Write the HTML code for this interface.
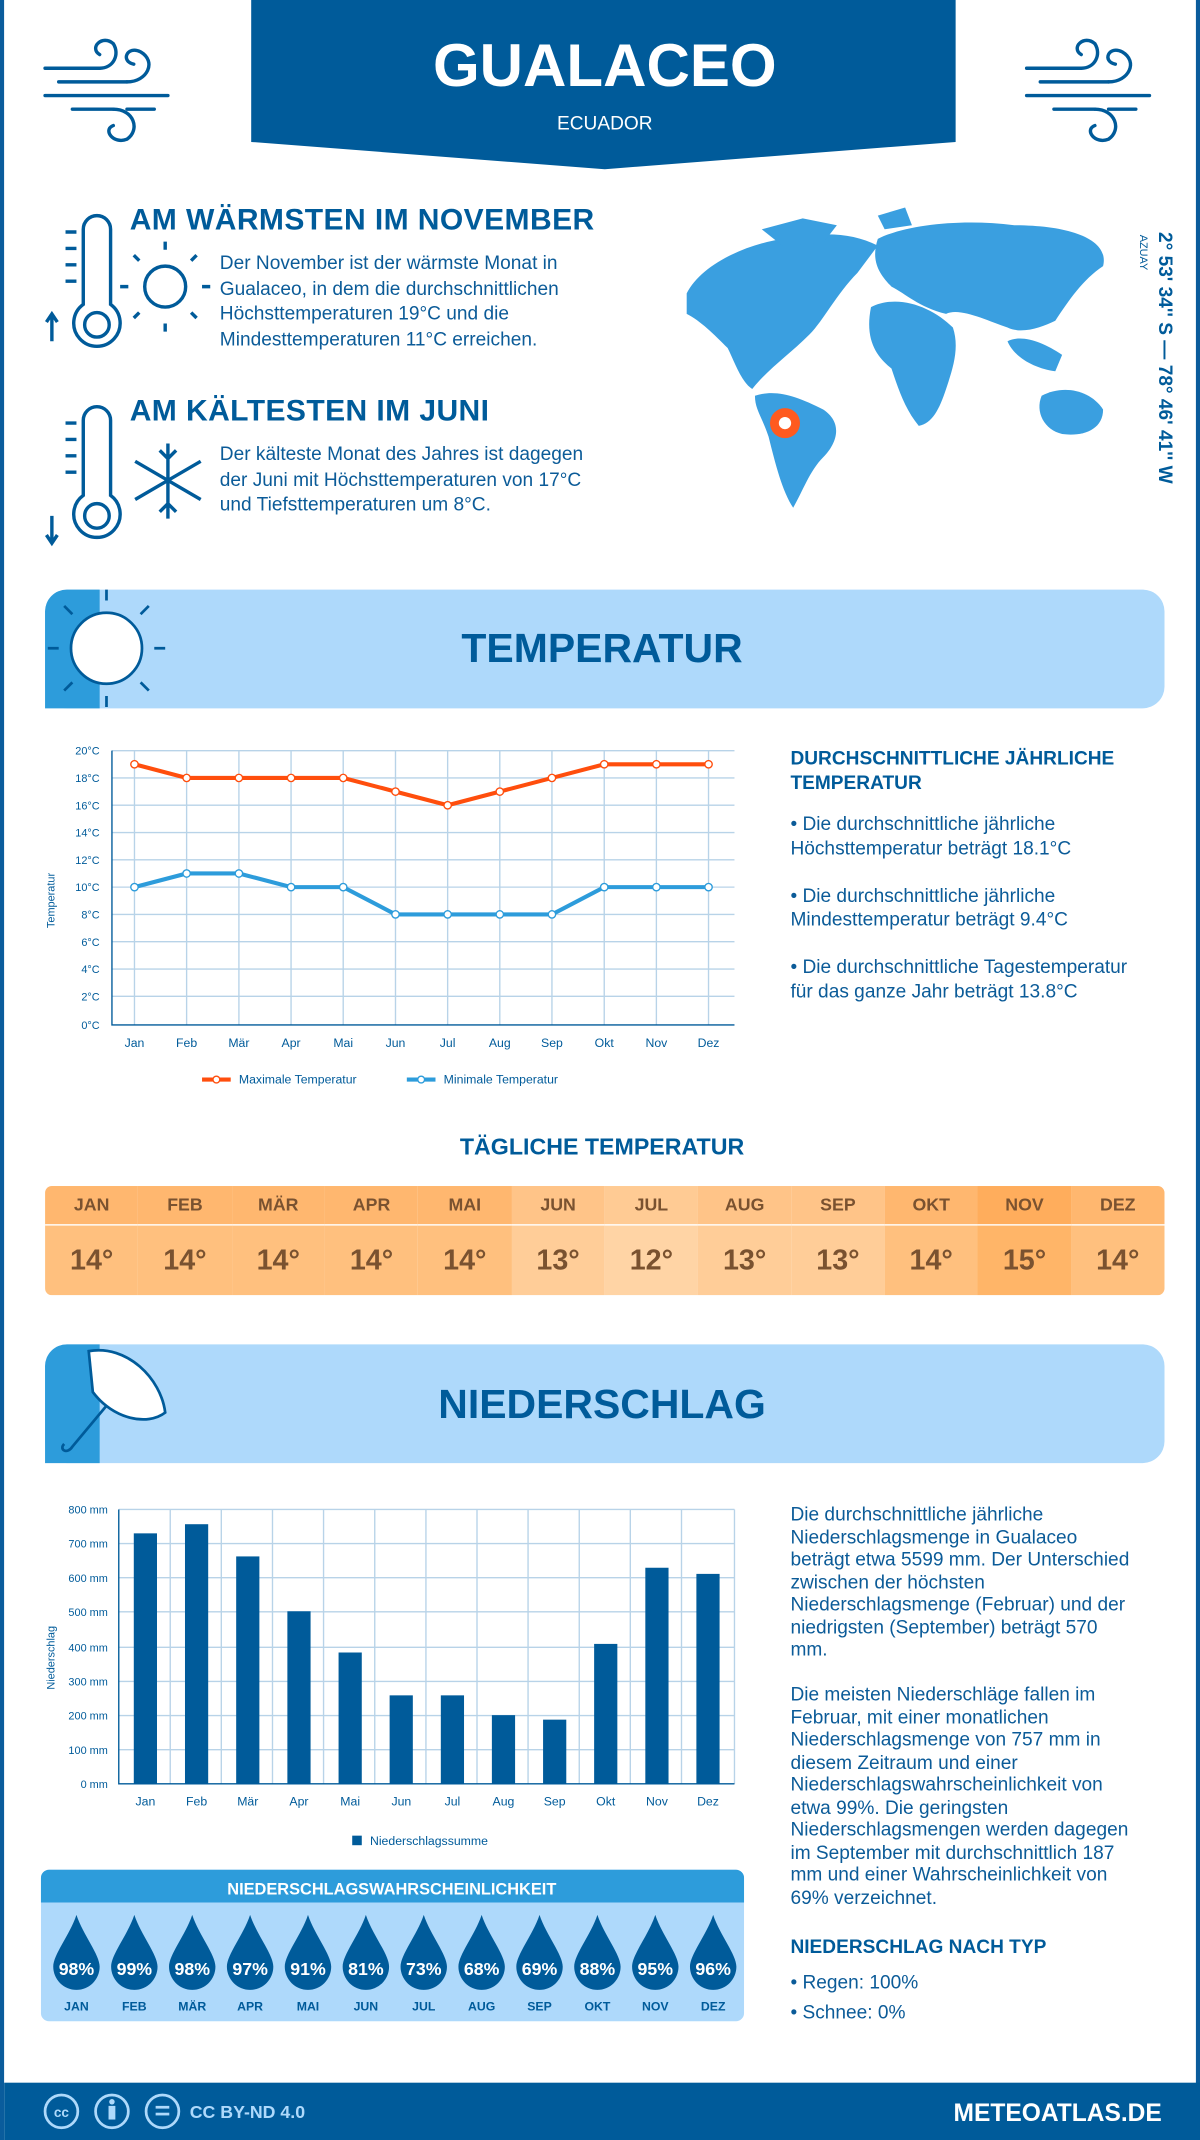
<!DOCTYPE html>
<html><head><meta charset="utf-8">
<style>
*{margin:0;padding:0;box-sizing:border-box}
html,body{width:1200px;height:2140px;overflow:hidden;background:#fff}
#w{position:absolute;left:0;top:0;width:879px;height:1568px;transform:scale(1.36519,1.36480);transform-origin:0 0;font-family:"Liberation Sans",sans-serif;color:#005b9a;border-left:3px solid #0a5c9c;border-right:3px solid #0a5c9c}
.a{position:absolute}
.t{font-size:14px;line-height:18.5px;color:#0b5b98;white-space:nowrap}
h2{font-size:22px;font-weight:bold;position:absolute;color:#005b9a;letter-spacing:0.3px}
</style></head><body>
<div id="w">
<svg class="a" style="left:0;top:0" width="879" height="1568">
<polygon points="181,0 697,0 697,104 440,124 181,104" fill="#005b9a"/>
<text x="440" y="63" text-anchor="middle" font-size="44" font-weight="bold" fill="#fff" font-family="Liberation Sans">GUALACEO</text>
<text x="440" y="95" text-anchor="middle" font-size="14" fill="#fff" font-family="Liberation Sans">ECUADOR</text>
<g stroke="#005b9a" stroke-width="2.5" fill="none" stroke-linecap="round">
<path d="M30,50 H70 M40,60 H90 M30,70 H120 M50,80 H80 M90,80 H110"/>
<path d="M70,50 C80,50 85,40 80,32 C72,25 62,35 70,40"/>
<path d="M90,60 C105,60 112,45 100,38 C90,33 85,45 95,47"/>
<path d="M80,80 C95,80 100,95 90,102 C80,106 72,95 80,92"/>
<path d="M749,50 H789 M759,60 H809 M749,70 H839 M769,80 H799 M809,80 H829"/>
<path d="M789,50 C799,50 804,40 799,32 C791,25 781,35 789,40"/>
<path d="M809,60 C824,60 831,45 819,38 C809,33 804,45 814,47"/>
<path d="M799,80 C814,80 819,95 809,102 C799,106 791,95 799,92"/>
</g>
<g stroke="#005b9a" stroke-width="2.5" fill="none">
<path d="M58,168 a10,10 0 0 1 20,0 v55 a17,17 0 1 1 -20,0 z"/>
<circle cx="68" cy="238" r="9"/>
<path d="M45,170 h8 M45,182 h8 M45,194 h8 M45,206 h8 M35,250 v-20 M31,236 l4,-6 4,6"/>
<path d="M58,308 a10,10 0 0 1 20,0 v55 a17,17 0 1 1 -20,0 z"/>
<circle cx="68" cy="378" r="9"/>
<path d="M45,310 h8 M45,322 h8 M45,334 h8 M45,346 h8 M35,378 v20 M31,392 l4,6 4,-6"/>
<circle cx="118" cy="210" r="15"/>
<path d="M118,183 v-6 M118,237 v6 M91,210 h-6 M145,210 h6 M99,191 l-4,-4 M137,229 l4,4 M137,191 l4,-4 M99,229 l-4,4"/>
<path d="M120,325 v55 M96,338 l48,28 M96,366 l48,-28 M114,330 l6,6 6,-6 M114,375 l6,-6 6,6"/>
</g>
<g fill="#3a9fe0">
<path d="M500,215 C510,195 540,180 570,175 C600,170 620,170 640,180 L625,200 C610,215 600,235 590,245 C575,260 560,270 548,285 C540,280 535,265 530,255 C520,245 510,235 500,230 Z"/>
<path d="M555,168 L585,160 L610,165 L600,178 L570,180 Z"/>
<path d="M550,290 C565,285 580,290 600,300 C615,310 610,325 600,335 C590,345 585,360 578,372 C570,360 565,340 560,320 C555,305 550,300 550,290 Z"/>
<path d="M640,175 C660,165 700,160 740,165 C780,165 810,175 805,195 C790,205 780,220 770,235 C760,240 745,245 735,240 C720,235 700,225 690,230 C670,225 660,215 650,210 C640,200 635,190 640,175 Z"/>
<path d="M635,225 C655,215 680,225 695,240 C700,255 695,270 690,285 C685,300 680,310 670,312 C660,300 655,285 650,270 C640,262 630,250 635,225 Z"/>
<path d="M760,290 C775,282 795,285 805,300 C805,315 790,320 775,318 C762,315 755,302 760,290 Z"/>
<path d="M735,250 C745,245 760,250 775,260 L770,272 C755,270 740,262 735,250 Z"/>
<path d="M640,158 L660,152 L665,165 L645,168 Z"/>
</g>
<circle cx="572" cy="310" r="11" fill="#ff5a1f"/><circle cx="572" cy="310" r="4.5" fill="#fff"/>
<text transform="translate(846,170) rotate(90)" font-size="14" font-weight="bold" fill="#005b9a" font-family="Liberation Sans">2° 53' 34'' S — 78° 46' 41'' W</text>
<text transform="translate(832,172) rotate(90)" font-size="8" fill="#005b9a" font-family="Liberation Sans">AZUAY</text>
<rect x="30" y="432" width="820" height="87" rx="16" fill="#aed9fb"/>
<path d="M46,432 H70 V519 H30 V448 A16,16 0 0 1 46,432 Z" fill="#2d9cdb"/>
<circle cx="75" cy="475" r="26" fill="#fff" stroke="#005b9a" stroke-width="2"/>
<g stroke="#005b9a" stroke-width="2"><path d="M75,440 v-8 M75,510 v8 M40,475 h-8 M110,475 h8 M50,450 l-6,-6 M100,500 l6,6 M100,450 l6,-6 M50,500 l-6,6"/></g>
<text x="438" y="485" text-anchor="middle" font-size="30" font-weight="bold" fill="#005b9a" font-family="Liberation Sans">TEMPERATUR</text>
<rect x="30" y="985" width="820" height="87" rx="16" fill="#aed9fb"/>
<path d="M46,985 H70 V1072 H30 V1001 A16,16 0 0 1 46,985 Z" fill="#2d9cdb"/>
<path d="M62,990 C90,985 115,1010 118,1035 C105,1045 80,1040 65,1020 Z" fill="#fff" stroke="#005b9a" stroke-width="2"/>
<path d="M75,1030 L50,1060 C46,1066 40,1062 44,1058" fill="none" stroke="#005b9a" stroke-width="2"/>
<text x="438" y="1039" text-anchor="middle" font-size="30" font-weight="bold" fill="#005b9a" font-family="Liberation Sans">NIEDERSCHLAG</text>
<g font-family="Liberation Sans" font-size="8" fill="#005b9a">
<g stroke="#b8d3e8" stroke-width="1">
<path d="M79,550H535M79,570H535M79,590H535M79,610H535M79,630H535M79,650H535M79,670H535M79,690H535M79,710H535M79,730H535"/>
<path d="M95.5,550V751M133.7,550V751M172,550V751M210.2,550V751M248.4,550V751M286.7,550V751M324.9,550V751M363.1,550V751M401.3,550V751M439.6,550V751M477.8,550V751M516,550V751"/>
</g>
<path d="M79,550V751H535" stroke="#005b9a" fill="none"/>
<g text-anchor="end"><text x="70" y="553">20°C</text><text x="70" y="573">18°C</text><text x="70" y="593">16°C</text><text x="70" y="613">14°C</text><text x="70" y="633">12°C</text><text x="70" y="653">10°C</text><text x="70" y="673">8°C</text><text x="70" y="693">6°C</text><text x="70" y="713">4°C</text><text x="70" y="733">2°C</text><text x="70" y="754">0°C</text></g>
<text transform="translate(37,680) rotate(-90)">Temperatur</text>
<g text-anchor="middle" font-size="9"><text x="95.5" y="767">Jan</text><text x="133.7" y="767">Feb</text><text x="172" y="767">Mär</text><text x="210.2" y="767">Apr</text><text x="248.4" y="767">Mai</text><text x="286.7" y="767">Jun</text><text x="324.9" y="767">Jul</text><text x="363.1" y="767">Aug</text><text x="401.3" y="767">Sep</text><text x="439.6" y="767">Okt</text><text x="477.8" y="767">Nov</text><text x="516" y="767">Dez</text></g>
<polyline points="95.5,560 133.7,570 172,570 210.2,570 248.4,570 286.7,580 324.9,590 363.1,580 401.3,570 439.6,560 477.8,560 516,560" fill="none" stroke="#ff4e0d" stroke-width="3"/>
<polyline points="95.5,650 133.7,640 172,640 210.2,650 248.4,650 286.7,670 324.9,670 363.1,670 401.3,670 439.6,650 477.8,650 516,650" fill="none" stroke="#2d9cdb" stroke-width="3"/>
<g fill="#fff" stroke="#ff4e0d" stroke-width="1"><circle cx="95.5" cy="560" r="2.7"/><circle cx="133.7" cy="570" r="2.7"/><circle cx="172" cy="570" r="2.7"/><circle cx="210.2" cy="570" r="2.7"/><circle cx="248.4" cy="570" r="2.7"/><circle cx="286.7" cy="580" r="2.7"/><circle cx="324.9" cy="590" r="2.7"/><circle cx="363.1" cy="580" r="2.7"/><circle cx="401.3" cy="570" r="2.7"/><circle cx="439.6" cy="560" r="2.7"/><circle cx="477.8" cy="560" r="2.7"/><circle cx="516" cy="560" r="2.7"/></g>
<g fill="#fff" stroke="#2d9cdb" stroke-width="1"><circle cx="95.5" cy="650" r="2.7"/><circle cx="133.7" cy="640" r="2.7"/><circle cx="172" cy="640" r="2.7"/><circle cx="210.2" cy="650" r="2.7"/><circle cx="248.4" cy="650" r="2.7"/><circle cx="286.7" cy="670" r="2.7"/><circle cx="324.9" cy="670" r="2.7"/><circle cx="363.1" cy="670" r="2.7"/><circle cx="401.3" cy="670" r="2.7"/><circle cx="439.6" cy="650" r="2.7"/><circle cx="477.8" cy="650" r="2.7"/><circle cx="516" cy="650" r="2.7"/></g>
<path d="M145,791h21" stroke="#ff4e0d" stroke-width="3"/><circle cx="155.5" cy="791" r="2.5" fill="#fff" stroke="#ff4e0d"/>
<text x="172" y="794" font-size="9">Maximale Temperatur</text>
<path d="M295,791h21" stroke="#2d9cdb" stroke-width="3"/><circle cx="305.5" cy="791" r="2.5" fill="#fff" stroke="#2d9cdb"/>
<text x="322" y="794" font-size="9">Minimale Temperatur</text>
</g>
<text x="438" y="846" text-anchor="middle" font-size="17" font-weight="bold" fill="#005b9a" font-family="Liberation Sans">TÄGLICHE TEMPERATUR</text>
<g font-family="Liberation Sans" font-size="8" fill="#005b9a">
<g stroke="#b8d3e8" stroke-width="1">
<path d="M84,1106H535M84,1131H535M84,1156H535M84,1181H535M84,1207H535M84,1232H535M84,1257H535M84,1282H535"/>
<path d="M121.7,1106V1307M159.1,1106V1307M196.6,1106V1307M234,1106V1307M271.5,1106V1307M309,1106V1307M346.4,1106V1307M383.8,1106V1307M421.3,1106V1307M458.7,1106V1307M496.2,1106V1307M535,1106V1307"/>
</g>
<path d="M84,1106V1307H535" stroke="#005b9a" fill="none"/>
<g text-anchor="end"><text x="76" y="1109">800 mm</text><text x="76" y="1134">700 mm</text><text x="76" y="1159">600 mm</text><text x="76" y="1184">500 mm</text><text x="76" y="1210">400 mm</text><text x="76" y="1235">300 mm</text><text x="76" y="1260">200 mm</text><text x="76" y="1285">100 mm</text><text x="76" y="1310">0 mm</text></g>
<text transform="translate(37,1238) rotate(-90)">Niederschlag</text>
<g fill="#005b9a">
<rect x="95" y="1123.5" width="17" height="183.5"/><rect x="132.5" y="1116.8" width="17" height="190.2"/><rect x="170" y="1140.4" width="17" height="166.6"/><rect x="207.5" y="1180.6" width="17" height="126.4"/><rect x="245" y="1210.8" width="17" height="96.2"/><rect x="282.4" y="1242.2" width="17" height="64.8"/><rect x="319.9" y="1242.2" width="17" height="64.8"/><rect x="357.3" y="1256.7" width="17" height="50.3"/><rect x="394.8" y="1260" width="17" height="47"/><rect x="432.2" y="1204.5" width="17" height="102.5"/><rect x="469.7" y="1148.7" width="17" height="158.3"/><rect x="507.1" y="1153.2" width="17" height="153.8"/>
</g>
<g text-anchor="middle" font-size="9"><text x="103.5" y="1323">Jan</text><text x="141" y="1323">Feb</text><text x="178.5" y="1323">Mär</text><text x="216" y="1323">Apr</text><text x="253.5" y="1323">Mai</text><text x="291" y="1323">Jun</text><text x="328.4" y="1323">Jul</text><text x="365.8" y="1323">Aug</text><text x="403.3" y="1323">Sep</text><text x="440.7" y="1323">Okt</text><text x="478.2" y="1323">Nov</text><text x="515.6" y="1323">Dez</text></g>
<rect x="255" y="1345" width="7" height="7"/><text x="268" y="1352" font-size="9">Niederschlagssumme</text>
</g>
<rect x="27" y="1370" width="515" height="111" rx="6" fill="#aed9fb"/>
<path d="M33,1370H536A6,6 0 0 1 542,1376V1394H27V1376A6,6 0 0 1 33,1370Z" fill="#2d9cdb"/>
<text x="284" y="1388" text-anchor="middle" font-size="12" font-weight="bold" fill="#fff" font-family="Liberation Sans">NIEDERSCHLAGSWAHRSCHEINLICHKEIT</text>
<g id="drops" fill="#005b9a" font-family="Liberation Sans" font-weight="bold" text-anchor="middle"></g>
<rect x="0" y="1526" width="879" height="42" fill="#005b9a"/>
<g stroke="#aed9fb" stroke-width="2" fill="none"><circle cx="42" cy="1547" r="12"/><circle cx="79" cy="1547" r="12"/><circle cx="116" cy="1547" r="12"/></g>
<g fill="#aed9fb" font-family="Liberation Sans" font-weight="bold"><text x="42" y="1551" font-size="10" text-anchor="middle">cc</text><circle cx="79" cy="1540" r="2"/><rect x="76.5" y="1543" width="5" height="10"/><rect x="111" y="1543" width="10" height="2"/><rect x="111" y="1548" width="10" height="2"/>
<text x="136" y="1552" font-size="13">CC BY-ND 4.0</text></g>
<text x="848" y="1554" text-anchor="end" font-size="18" font-weight="bold" fill="#fff" font-family="Liberation Sans">METEOATLAS.DE</text>
</svg>

<h2 style="left:92px;top:148px">AM WÄRMSTEN IM NOVEMBER</h2>
<div class="a t" style="left:158px;top:183px">Der November ist der wärmste Monat in<br>Gualaceo, in dem die durchschnittlichen<br>Höchsttemperaturen 19°C und die<br>Mindesttemperaturen 11°C erreichen.</div>
<h2 style="left:92px;top:288px">AM KÄLTESTEN IM JUNI</h2>
<div class="a t" style="left:158px;top:323px">Der kälteste Monat des Jahres ist dagegen<br>der Juni mit Höchsttemperaturen von 17°C<br>und Tiefsttemperaturen um 8°C.</div>

<div class="a" style="left:576px;top:546px;width:270px;font-size:14px;font-weight:bold;line-height:18px;color:#005b9a">DURCHSCHNITTLICHE JÄHRLICHE TEMPERATUR</div>
<div class="a t" style="left:576px;top:595px;font-size:14px;line-height:17.5px">• Die durchschnittliche jährliche<br>Höchsttemperatur beträgt 18.1°C<br><br>• Die durchschnittliche jährliche<br>Mindesttemperatur beträgt 9.4°C<br><br>• Die durchschnittliche Tagestemperatur<br>für das ganze Jahr beträgt 13.8°C</div>

<div class="a" id="tbl" style="left:30px;top:869px;width:820px;height:80px;border-radius:5px;overflow:hidden;display:flex"></div>

<div class="a t" style="left:576px;top:1101px;font-size:14px;line-height:16.5px">Die durchschnittliche jährliche<br>Niederschlagsmenge in Gualaceo<br>beträgt etwa 5599 mm. Der Unterschied<br>zwischen der höchsten<br>Niederschlagsmenge (Februar) und der<br>niedrigsten (September) beträgt 570<br>mm.<br><br>Die meisten Niederschläge fallen im<br>Februar, mit einer monatlichen<br>Niederschlagsmenge von 757 mm in<br>diesem Zeitraum und einer<br>Niederschlagswahrscheinlichkeit von<br>etwa 99%. Die geringsten<br>Niederschlagsmengen werden dagegen<br>im September mit durchschnittlich 187<br>mm und einer Wahrscheinlichkeit von<br>69% verzeichnet.</div>
<div class="a" style="left:576px;top:1418px;font-size:14px;font-weight:bold">NIEDERSCHLAG NACH TYP</div>
<div class="a t" style="left:576px;top:1441px;font-size:14px;line-height:22px">• Regen: 100%<br>• Schnee: 0%</div>
</div>
<script>
var m=["JAN","FEB","MÄR","APR","MAI","JUN","JUL","AUG","SEP","OKT","NOV","DEZ"];
var v=[14,14,14,14,14,13,12,13,13,14,15,14];
var hc={15:"#ffad5c",14:"#ffb76f",13:"#ffc488",12:"#ffcb94"};
var bc={15:"#ffb568",14:"#ffc07e",13:"#ffcd98",12:"#ffd4a5"};
var t=document.getElementById("tbl"),h="";
for(var i=0;i<12;i++){h+='<div style="flex:1;text-align:center;font-family:Liberation Sans,sans-serif;color:#7a5230"><div style="height:28px;line-height:28px;background:'+hc[v[i]]+';font-size:13px;font-weight:bold">'+m[i]+'</div><div style="height:52px;line-height:52px;background:'+bc[v[i]]+';font-size:21px;font-weight:bold;border-top:1px solid #fff">'+v[i]+'°</div></div>';}
t.innerHTML=h;
var p=[98,99,98,97,91,81,73,68,69,88,95,96],g="";
for(var i=0;i<12;i++){var x=53+i*42.4;
g+='<path d="M'+x+',1403 C'+(x+5)+',1418 '+(x+17)+',1432 '+(x+17)+',1441 A17,17 0 0 1 '+(x-17)+',1441 C'+(x-17)+',1432 '+(x-5)+',1418 '+x+',1403Z"/>';
g+='<text x="'+x+'" y="1447" font-size="13" fill="#fff">'+p[i]+'%</text>';
g+='<text x="'+x+'" y="1473" font-size="9" fill="#005b9a">'+m[i]+'</text>';}
document.getElementById("drops").innerHTML=g;
</script>
</body></html>
